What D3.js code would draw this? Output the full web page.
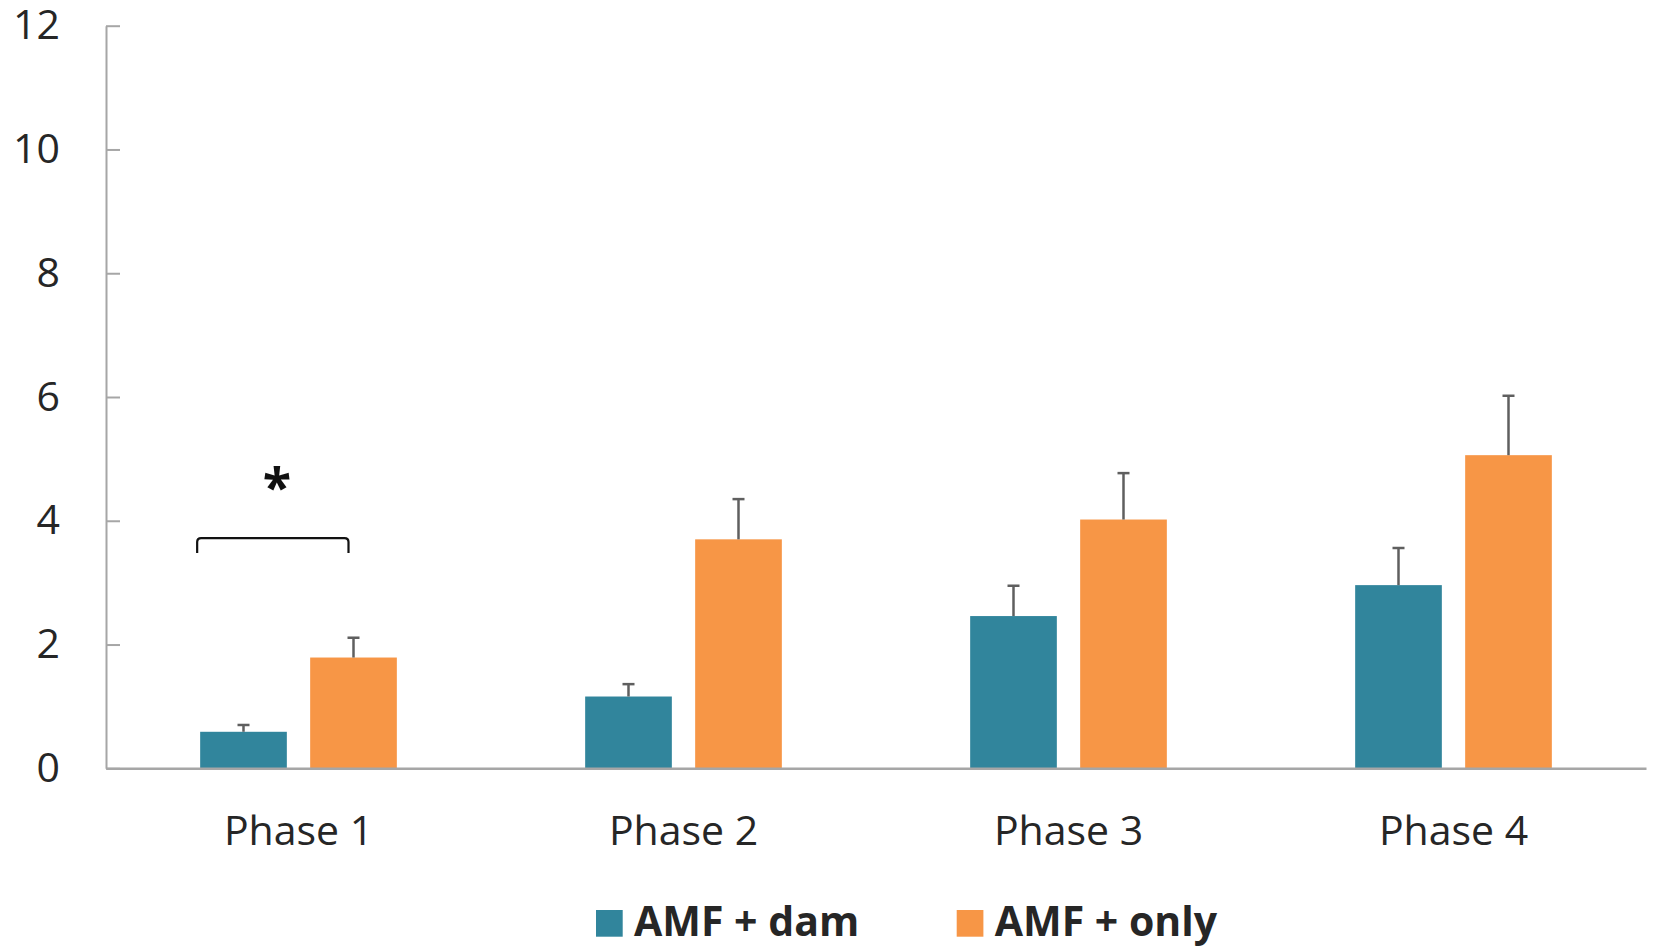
<!DOCTYPE html>
<html>
<head>
<meta charset="utf-8">
<script src="https://cdn.jsdelivr.net/npm/d3@7"></script>
<style>
  html, body { margin: 0; padding: 0; background: #fff; }
  svg { display: block; }
</style>
</head>
<body>
<svg id="chart" width="1654" height="947"></svg>
<script>
// Mycorrhizal colonisation by phase, two treatments (mean + SE)
const phases = ["Phase 1", "Phase 2", "Phase 3", "Phase 4"];
const seriesNames = ["AMF + dam", "AMF + only"];
const damMeans = [0.59, 1.16, 2.46, 2.96];
const damErrors = [0.11, 0.20, 0.49, 0.60];
const onlyMeans = [1.79, 3.70, 4.02, 5.06];
const onlyErrors = [0.32, 0.65, 0.75, 0.96];
const yTicks = [0, 2, 4, 6, 8, 10, 12];
const seriesColors = ["#31859C", "#F79646"];

// Significance marker between the two Phase 1 bars
const significance = [{ phase: "Phase 1", level: 3.72, label: "*" }];

const rows = phases.map((p, i) => ({
  phase: p,
  values: [
    { series: seriesNames[0], mean: damMeans[i], err: damErrors[i] },
    { series: seriesNames[1], mean: onlyMeans[i], err: onlyErrors[i] }
  ]
}));

const svg = d3.select("#chart");
const plotLeft = 106, plotRight = 1646, plotTop = 25.7, plotBottom = 768.3;

const x0 = d3.scaleBand().domain(phases).range([plotLeft, plotRight]).paddingInner(0).paddingOuter(0);
const x1 = d3.scaleBand().domain(seriesNames).range([0, x0.bandwidth()])
  .paddingInner(0.212).paddingOuter(0.856);
const y = d3.scaleLinear().domain([0, 12]).range([plotBottom, plotTop]);
const color = d3.scaleOrdinal().domain(seriesNames).range(seriesColors);

const FONT = "'Open Sans', 'Noto Sans', sans-serif";
const axisColor = "#a6a6a6";

// Y axis with ticks pointing into the plot
const yAxis = svg.append("g")
  .attr("transform", `translate(${plotLeft},0)`)
  .call(d3.axisLeft(y).tickValues(yTicks).tickFormat(d3.format("d"))
    .tickSizeInner(-14).tickSizeOuter(0).tickPadding(46));
yAxis.select(".domain").attr("stroke", axisColor).attr("stroke-width", 2);
yAxis.selectAll(".tick line").attr("stroke", axisColor).attr("stroke-width", 2);
yAxis.selectAll(".tick text")
  .attr("fill", "#262626")
  .style("font-family", FONT)
  .style("font-size", "41px");

// Bars
const groups = svg.append("g").selectAll("g")
  .data(rows).join("g")
  .attr("transform", d => `translate(${x0(d.phase)},0)`);

groups.selectAll("rect")
  .data(d => d.values).join("rect")
  .attr("x", d => x1(d.series))
  .attr("y", d => y(d.mean))
  .attr("width", x1.bandwidth())
  .attr("height", d => y(0) - y(d.mean))
  .attr("fill", d => color(d.series));

// Error bars (upper only)
const capHalf = 6;
const eb = groups.selectAll("g.err")
  .data(d => d.values).join("g").attr("class", "err")
  .attr("stroke", "#5f5f5f").attr("stroke-width", 2.5);
eb.append("line")
  .attr("x1", d => x1(d.series) + x1.bandwidth() / 2)
  .attr("x2", d => x1(d.series) + x1.bandwidth() / 2)
  .attr("y1", d => y(d.mean))
  .attr("y2", d => y(d.mean + d.err));
eb.append("line")
  .attr("x1", d => x1(d.series) + x1.bandwidth() / 2 - capHalf)
  .attr("x2", d => x1(d.series) + x1.bandwidth() / 2 + capHalf)
  .attr("y1", d => y(d.mean + d.err))
  .attr("y2", d => y(d.mean + d.err));

// X axis baseline
const xAxis = svg.append("g")
  .attr("transform", `translate(0,${plotBottom})`)
  .call(d3.axisBottom(x0).tickSize(0).tickPadding(48));
xAxis.select(".domain").attr("stroke", axisColor).attr("stroke-width", 2.5);
xAxis.selectAll(".tick text")
  .attr("fill", "#262626")
  .style("font-family", FONT)
  .style("font-size", "41px");

// Significance bracket
significance.forEach(s => {
  const xa = x0(s.phase) + x1(seriesNames[0]) - 3;
  const xb = x0(s.phase) + x1(seriesNames[1]) + x1.bandwidth() / 2 - 5;
  const yt = y(s.level), yl = yt + 15, r = 4;
  svg.append("path")
    .attr("d", `M${xa},${yl} V${yt + r} Q${xa},${yt} ${xa + r},${yt} H${xb - r} Q${xb},${yt} ${xb},${yt + r} V${yl}`)
    .attr("fill", "none").attr("stroke", "#111").attr("stroke-width", 2.2);
  svg.append("text")
    .attr("x", (xa + xb) / 2 + 4)
    .attr("y", yt - 32)
    .attr("text-anchor", "middle")
    .attr("fill", "#111")
    .style("font-family", FONT)
    .style("font-weight", "bold")
    .style("font-size", "52px")
    .text(s.label);
});

// Legend
const legendX = [596, 956.7];
const legend = svg.append("g").selectAll("g")
  .data(seriesNames).join("g")
  .attr("transform", (d, i) => `translate(${legendX[i]},910)`);
legend.append("rect")
  .attr("width", 26.7).attr("height", 26.7)
  .attr("fill", d => color(d));
legend.append("text")
  .attr("x", 38).attr("y", 25.7)
  .attr("fill", "#262626")
  .style("font-family", FONT)
  .style("font-weight", "bold")
  .style("font-size", "41px")
  .text(d => d);
</script>
</body>
</html>
